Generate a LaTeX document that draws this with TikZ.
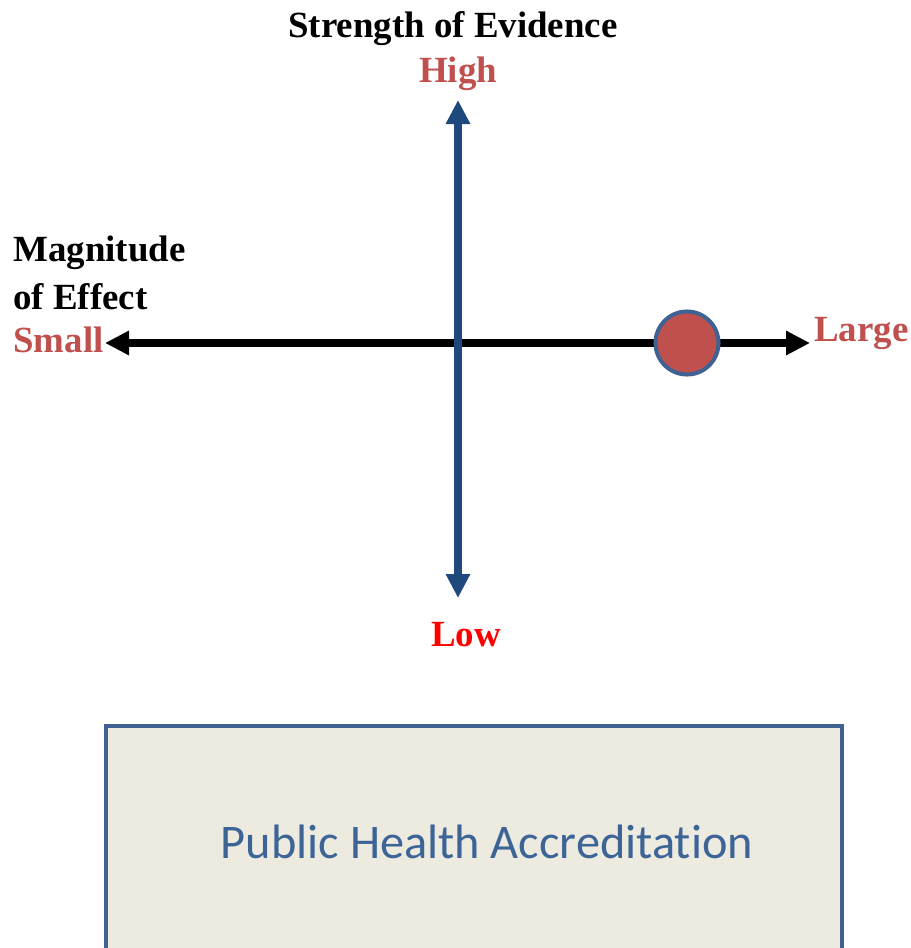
\documentclass[tikz,border=0pt]{standalone}
\usepackage{fontspec}
\setmainfont{Liberation Serif}
\newfontfamily\boxfont[Ligatures=NoCommon]{Carlito}
\usetikzlibrary{arrows.meta}
\definecolor{axisblue}{HTML}{1F497D}
\definecolor{dotred}{HTML}{C0504D}
\definecolor{boxline}{HTML}{3F6293}
\definecolor{boxfill}{HTML}{EDEAE0}
\definecolor{boxtext}{HTML}{3C6497}
\tikzset{
  lbl/.style={font=\fontsize{21}{24}\selectfont\bfseries, inner sep=0pt},
  tip/.style={-{Triangle[length=4.8mm, width=4.6mm]}}
}
\begin{document}
\begin{tikzpicture}[x=0.2mm, y=-0.2mm]
          \useasboundingbox (0,0) rectangle (911,948);
          % axes
          \coordinate (origin) at (458,343);
          \coordinate (top) at (458,100);
          \coordinate (bottom) at (458,598);
          \coordinate (left) at (105,343);
          \coordinate (right) at (810,343);
          \draw[tip, line width=4pt] (origin) -- (left);
          \draw[tip, line width=4pt] (origin) -- (right);
          \draw[tip, axisblue, line width=4.5pt] (origin) -- (top);
          \draw[tip, axisblue, line width=4.5pt] (origin) -- (bottom);
          \node[circle, draw=boxline, fill=dotred, line width=2.3pt, minimum size=12.6mm, inner sep=0pt] (dot) at (687,343) {};
          % labels
          \node[lbl] (title) at (453,29) {Strength of Evidence};
          \node[lbl, text=dotred] (high) at (458,74) {High};
          \node[lbl, text=red] (low) at (466,635) {Low};
          \node[lbl, text=dotred, anchor=west] (large) at (814,333) {Large};
          \node[lbl, text=dotred, anchor=east] (small) at (104,340) {Small};
          \node[lbl, anchor=west] (mag) at (13,253) {Magnitude};
          \node[lbl, anchor=west] (eff) at (13,297) {of Effect};
          % box
          \draw[draw=boxline, fill=boxfill, line width=2.3pt] (106,726) rectangle (842,990);
          \node[font=\boxfont\fontsize{27.5}{32}\selectfont, text=boxtext] (pha) at (487,842) {Public Health Accreditation};
        \end{tikzpicture}
\end{document}
